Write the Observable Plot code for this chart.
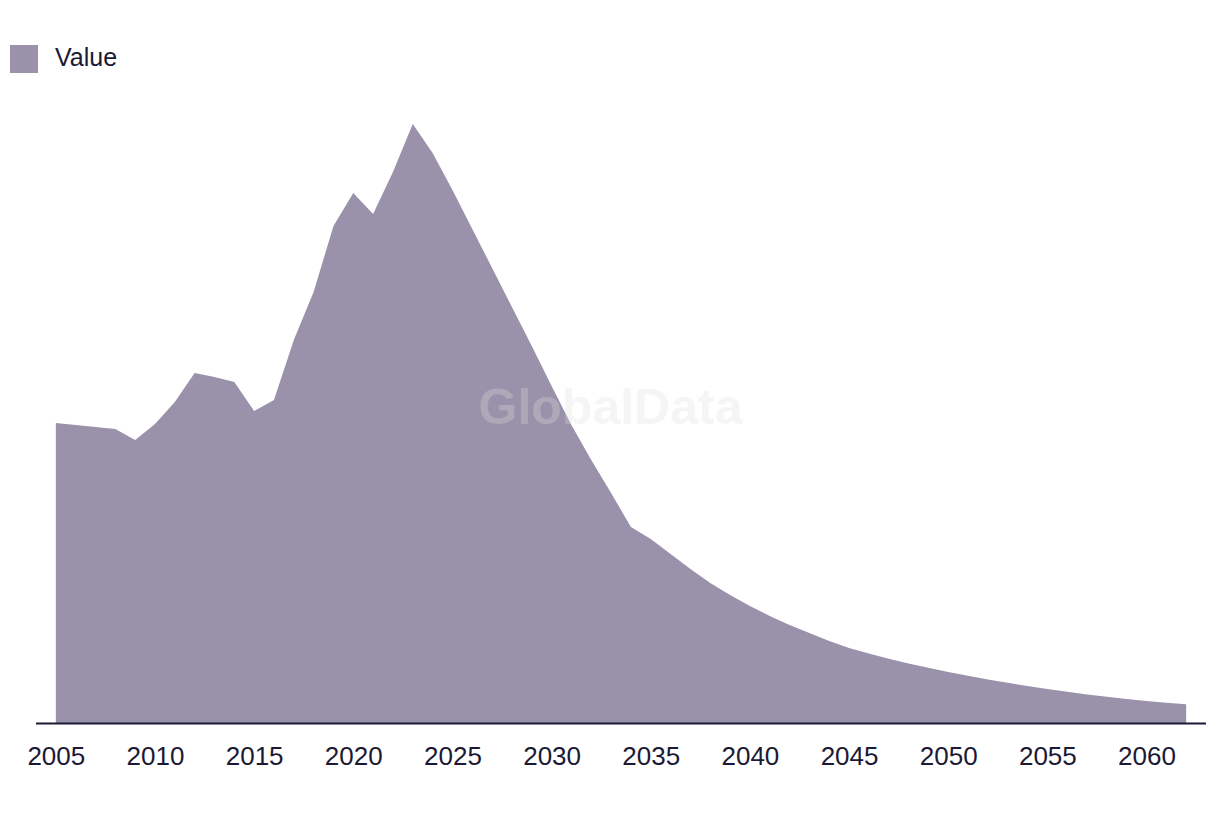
<!DOCTYPE html>
<html>
<head>
<meta charset="utf-8">
<script src="https://cdn.jsdelivr.net/npm/d3@7"></script>
<script src="https://cdn.jsdelivr.net/npm/@observablehq/plot@0.6"></script>
<style>
  html, body { margin: 0; padding: 0; background: #fff; }
  body { width: 1220px; height: 814px; overflow: hidden; font-family: "Liberation Sans", Arial, sans-serif; }
  #legend { height: 90px; position: relative; }
  #legend .sw { position: absolute; left: 10px; top: 45px; width: 28px; height: 28px; background: #9a91aa; }
  #legend .lb { position: absolute; left: 55px; top: 42px; font-size: 25px; line-height: 30px; color: #1b1934; }
  #chart svg { display: block; }
</style>
</head>
<body>
<div id="legend"><div class="sw"></div><div class="lb">Value</div></div>
<div id="chart"></div>
<script>
const years = [2005,2006,2007,2008,2009,2010,2011,2012,2013,2014,2015,2016,2017,2018,2019,2020,2021,2022,2023,2024,2025,2026,2027,2028,2029,2030,2031,2032,2033,2034,2035,2036,2037,2038,2039,2040,2041,2042,2043,2044,2045,2046,2047,2048,2049,2050,2051,2052,2053,2054,2055,2056,2057,2058,2059,2060,2061,2062];
const values = [300,298,296,294,283,299,321,350,346,341,312,323,383,431,497,530,509,551,599,570,533,494,455,416,377,337,298,263,230,196,184,169,154,140,128,117,107,98,90,82,75,69.5,64.3,59.6,55.2,51,47.2,43.5,40.2,37,34,31.2,28.6,26.2,24,22,20.3,18.8];
const tickYears = [2005,2010,2015,2020,2025,2030,2035,2040,2045,2050,2055,2060];
const seriesName = "Value";
const watermark = "GlobalData";

const data = years.map((y, i) => ({year: y, value: values[i], series: seriesName}));

const chart = Plot.plot({
  width: 1220,
  height: 724,
  marginLeft: 36,
  marginRight: 14,
  marginTop: 33,
  marginBottom: 91,
  style: {fontFamily: "'Liberation Sans', Arial, sans-serif", color: "#1b1934", background: "#fff"},
  x: {domain: [2004, 2063]},
  y: {domain: [0, 600], axis: null},
  marks: [
    Plot.areaY(data, {x: "year", y: "value", fill: "#9a91aa", curve: "linear"}),
    Plot.ruleY([0], {stroke: "#1b1934", strokeWidth: 2}),
    Plot.axisX({ticks: tickYears, tickFormat: d => String(d), tickSize: 0, tickPadding: 23, fontSize: 26, fill: "#1b1934", label: null}),
    Plot.text([watermark], {frameAnchor: "middle", dx: -11, dy: -16, text: d => d, fontSize: 50, fontWeight: "bold", fill: "#dddddd", fillOpacity: 0.3})
  ]
});
document.getElementById("chart").appendChild(chart);
</script>
</body>
</html>
